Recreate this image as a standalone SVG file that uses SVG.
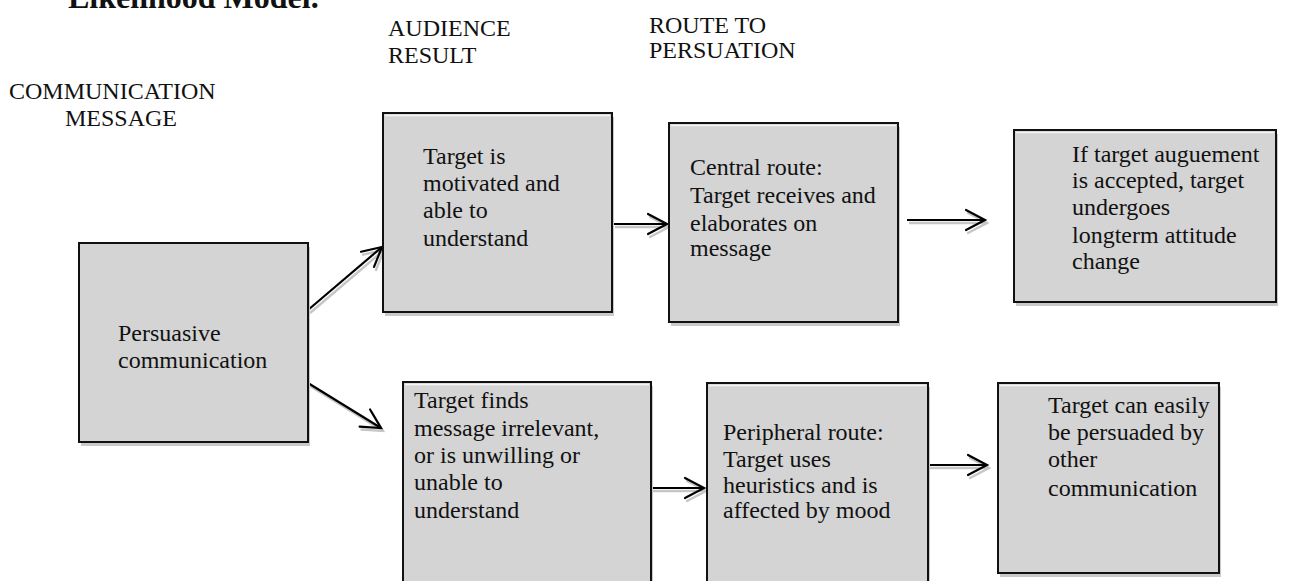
<svg xmlns="http://www.w3.org/2000/svg" width="1289" height="581" viewBox="0 0 1289 581">
  <defs>
    <marker id="head" markerUnits="userSpaceOnUse" markerWidth="30" markerHeight="30" viewBox="-24 -15 30 30" refX="0" refY="0" orient="auto" overflow="visible">
      <path d="M-19,-10 L0,0 L-19,10" fill="none" stroke="#000" stroke-width="2.2" stroke-linecap="round" stroke-linejoin="miter"/>
    </marker>
    <marker id="headShadow" markerUnits="userSpaceOnUse" markerWidth="30" markerHeight="30" viewBox="-24 -15 30 30" refX="0" refY="0" orient="auto" overflow="visible">
      <path d="M-19,-10 L0,0 L-19,10" fill="none" stroke="#c6c6c6" stroke-width="2.4" stroke-linecap="round"/>
    </marker>
  </defs>
  <style>
    text { font-family: "Liberation Serif", "Times New Roman", serif; font-size: 24px; fill: #111; }
    .title { font-weight: bold; font-size: 32px; }
    .box { fill: #d4d4d4; stroke: #111; stroke-width: 2; }
    .shadow { fill: #c9c9c9; }
    .gleam { stroke: #f4f4f4; stroke-width: 1.5; }
    .link { fill: none; stroke: #000; stroke-width: 2.2; marker-end: url(#head); }
    .linkShadow { fill: none; stroke: #c6c6c6; stroke-width: 2.4; marker-end: url(#headShadow); }
  </style>

  <rect x="0" y="0" width="1289" height="581" fill="#ffffff"/>

  <!-- headings -->
  <text class="title" x="68" y="8">Likelihood Model.</text>
  <g id="heading-message">
    <text x="9" y="99">COMMUNICATION</text>
    <text x="65" y="126">MESSAGE</text>
  </g>
  <g id="heading-audience">
    <text x="388" y="36">AUDIENCE</text>
    <text x="388" y="63">RESULT</text>
  </g>
  <g id="heading-route">
    <text x="649" y="33">ROUTE TO</text>
    <text x="649" y="58">PERSUATION</text>
  </g>

  <!-- connectors -->
  <g id="connectors">
    <g transform="translate(2,3)">
      <line class="linkShadow" x1="308" y1="310" x2="382" y2="247"/>
      <line class="linkShadow" x1="308" y1="383" x2="381" y2="428"/>
      <line class="linkShadow" x1="613" y1="224" x2="667" y2="224"/>
      <line class="linkShadow" x1="907" y1="220" x2="985" y2="220"/>
      <line class="linkShadow" x1="651" y1="488" x2="704" y2="488"/>
      <line class="linkShadow" x1="928" y1="465" x2="987" y2="465"/>
    </g>
    <line class="link" x1="308" y1="310" x2="382" y2="247"/>
    <line class="link" x1="308" y1="383" x2="381" y2="428"/>
    <line class="link" x1="613" y1="224" x2="667" y2="224"/>
    <line class="link" x1="907" y1="220" x2="985" y2="220"/>
    <line class="link" x1="651" y1="488" x2="704" y2="488"/>
    <line class="link" x1="928" y1="465" x2="987" y2="465"/>
  </g>

  <!-- nodes -->
  <g id="persuasive-communication">
    <rect class="shadow" x="81" y="247" width="229" height="199"/>
    <rect class="box" x="79" y="243" width="229" height="199"/>
    <text x="118" y="341">Persuasive</text>
    <text x="118" y="368">communication</text>
  </g>

  <g id="motivated">
    <rect class="shadow" x="385" y="117" width="229" height="199"/>
    <rect class="box" x="383" y="113" width="229" height="199"/>
    <line class="gleam" x1="385" y1="115.5" x2="610" y2="115.5"/>
    <text x="423" y="164">Target is</text>
    <text x="423" y="191">motivated and</text>
    <text x="423" y="218">able to</text>
    <text x="423" y="246">understand</text>
  </g>

  <g id="central-route">
    <rect class="shadow" x="671" y="127" width="229" height="199"/>
    <rect class="box" x="669" y="123" width="229" height="199"/>
    <line class="gleam" x1="671" y1="125.5" x2="896" y2="125.5"/>
    <text x="690" y="175">Central route:</text>
    <text x="690" y="203">Target receives and</text>
    <text x="690" y="231">elaborates on</text>
    <text x="690" y="256">message</text>
  </g>

  <g id="attitude-change">
    <rect class="shadow" x="1016" y="134" width="262" height="172"/>
    <rect class="box" x="1014" y="130" width="262" height="172"/>
    <line class="gleam" x1="1016" y1="132.5" x2="1274" y2="132.5"/>
    <text x="1072" y="162">If target auguement</text>
    <text x="1072" y="188">is accepted, target</text>
    <text x="1072" y="215">undergoes</text>
    <text x="1072" y="243">longterm attitude</text>
    <text x="1072" y="269">change</text>
  </g>

  <g id="irrelevant">
    <rect class="shadow" x="405" y="386" width="248" height="220"/>
    <rect class="box" x="403" y="382" width="248" height="220"/>
    <line class="gleam" x1="405" y1="384.5" x2="649" y2="384.5"/>
    <text x="414" y="408">Target finds</text>
    <text x="414" y="436">message irrelevant,</text>
    <text x="414" y="463">or is unwilling or</text>
    <text x="414" y="490">unable to</text>
    <text x="414" y="518">understand</text>
  </g>

  <g id="peripheral-route">
    <rect class="shadow" x="709" y="387" width="221" height="220"/>
    <rect class="box" x="707" y="383" width="221" height="220"/>
    <line class="gleam" x1="709" y1="385.5" x2="926" y2="385.5"/>
    <text x="723" y="440">Peripheral route:</text>
    <text x="723" y="467">Target uses</text>
    <text x="723" y="493">heuristics and is</text>
    <text x="723" y="518">affected by mood</text>
  </g>

  <g id="easily-persuaded">
    <rect class="shadow" x="1000" y="387" width="221" height="190"/>
    <rect class="box" x="998" y="383" width="221" height="190"/>
    <line class="gleam" x1="1000" y1="385.5" x2="1217" y2="385.5"/>
    <text x="1048" y="413">Target can easily</text>
    <text x="1048" y="440">be persuaded by</text>
    <text x="1048" y="467">other</text>
    <text x="1048" y="496">communication</text>
  </g>
</svg>
